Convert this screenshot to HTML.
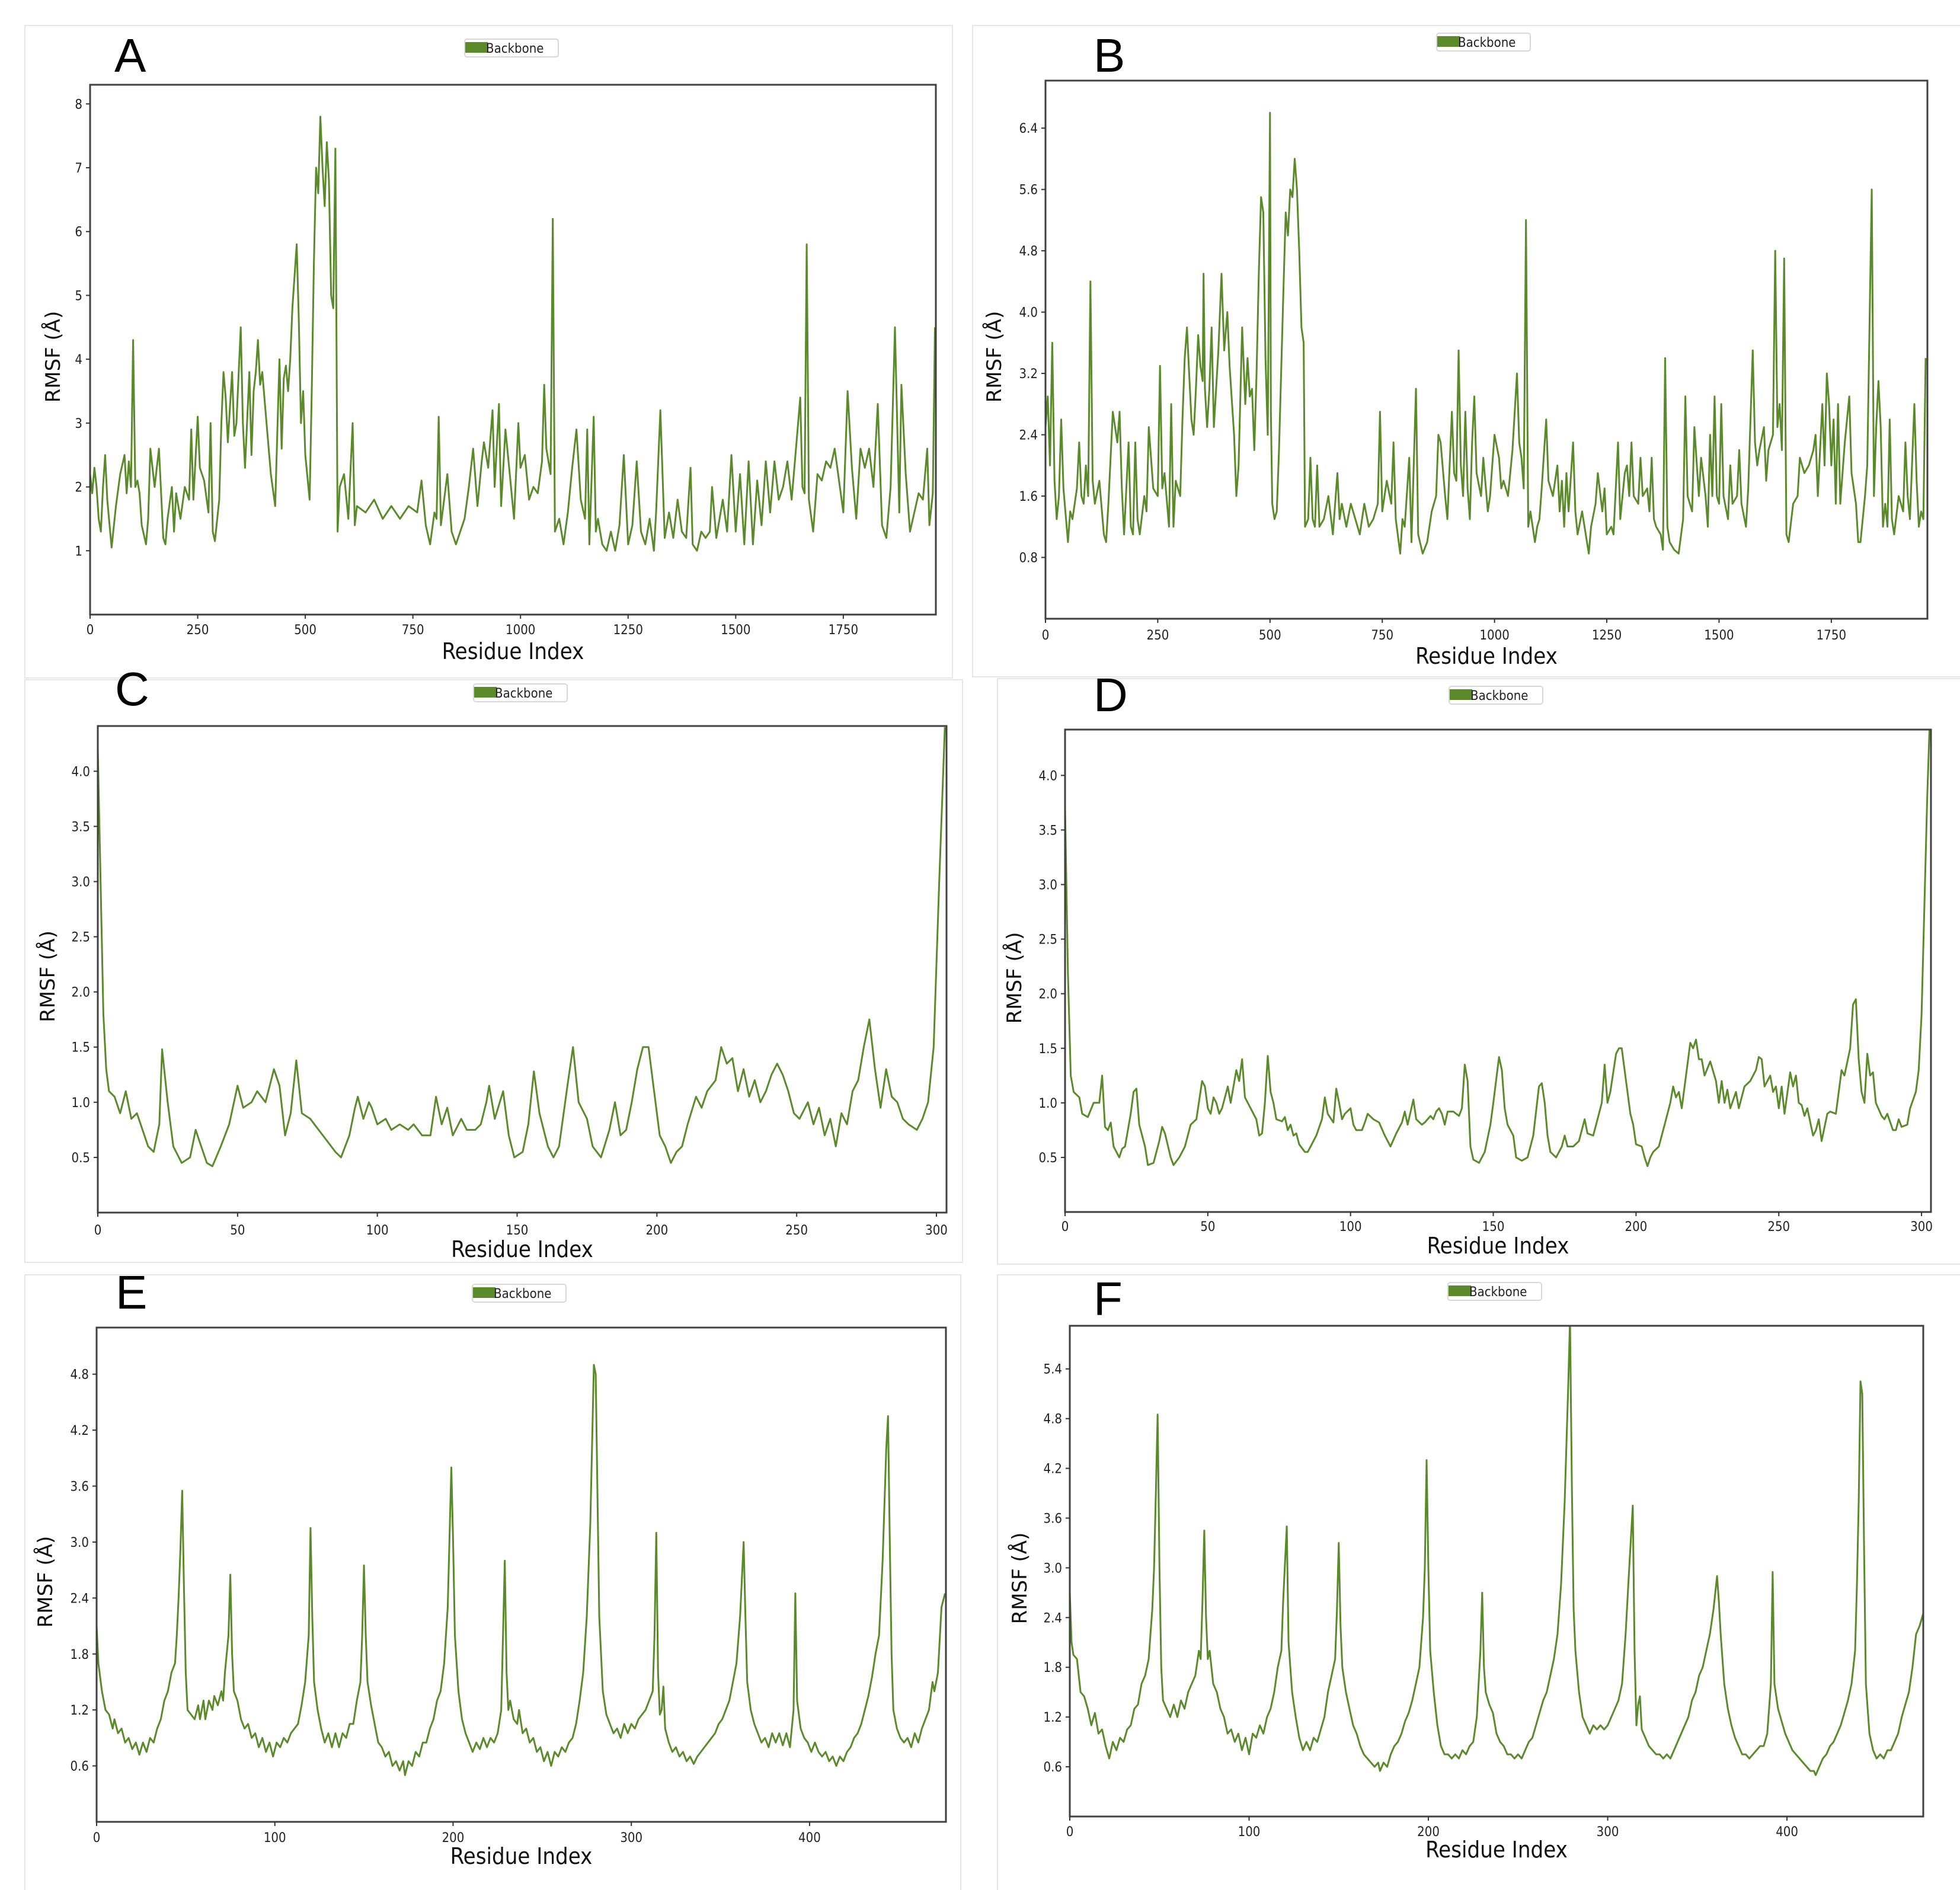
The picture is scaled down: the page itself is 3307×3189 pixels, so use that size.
<!DOCTYPE html>
<html><head><meta charset="utf-8"><style>
html,body{margin:0;padding:0;background:#fff;}
svg{display:block;}
</style></head><body>
<svg id="fig" xmlns="http://www.w3.org/2000/svg" width="3307" height="3189" viewBox="0 0 3307 3189">
<rect x="0" y="0" width="3307" height="3189" fill="#fff"/>
<g fill="none" stroke="#e6e6e6" stroke-width="2">
<rect x="42" y="43" width="1565" height="1101"/>
<rect x="1641" y="43" width="1680" height="1099"/>
<rect x="42" y="1147" width="1582" height="983"/>
<rect x="1683" y="1145" width="1640" height="988"/>
<rect x="42" y="2151" width="1579" height="1060"/>
<rect x="1683" y="2151" width="1640" height="1060"/>
</g>
</svg>
<script>
// ---- data (residue index, RMSF) ----
const xA=[0,5,10,15,20,25,30,35,40,50,60,70,80,85,90,95,100,105,110,115,120,130,135,140,150,160,170,175,180,190,195,200,210,220,230,235,240,250,255,265,275,280,285,290,300,305,310,315,320,330,335,340,350,355,360,370,375,380,385,390,395,400,410,420,430,440,445,450,455,460,465,470,480,485,490,495,500,510,515,520,525,530,535,540,545,550,555,560,565,570,575,580,590,600,610,615,620,640,660,680,700,720,740,760,770,780,790,800,805,810,815,830,840,850,860,870,880,890,900,910,915,925,935,940,950,955,965,975,985,995,1000,1010,1020,1030,1040,1050,1055,1060,1070,1075,1080,1090,1100,1110,1120,1130,1140,1150,1155,1160,1170,1175,1180,1190,1200,1210,1220,1230,1240,1250,1260,1270,1280,1290,1300,1310,1315,1325,1335,1345,1355,1365,1375,1385,1395,1400,1410,1420,1430,1440,1445,1455,1470,1480,1490,1500,1510,1520,1530,1540,1550,1560,1570,1580,1590,1600,1610,1620,1630,1640,1650,1655,1660,1665,1670,1680,1690,1700,1710,1720,1730,1740,1750,1760,1770,1780,1790,1800,1810,1820,1830,1840,1850,1860,1870,1880,1885,1895,1905,1915,1925,1935,1945,1950,1958,1963];
const yA=[2.2,1.9,2.3,2.0,1.5,1.3,2.0,2.5,1.8,1.05,1.7,2.2,2.5,1.9,2.4,2.0,4.3,2.0,2.1,1.9,1.4,1.1,1.5,2.6,2.0,2.6,1.2,1.1,1.5,2.0,1.3,1.9,1.5,2.0,1.8,2.9,1.8,3.1,2.3,2.1,1.6,3.0,1.3,1.15,1.8,3.0,3.8,3.4,2.7,3.8,2.8,3.0,4.5,3.0,2.3,3.8,2.5,3.5,3.8,4.3,3.6,3.8,3.0,2.2,1.7,4.0,2.6,3.7,3.9,3.5,4.0,4.8,5.8,4.6,3.0,3.5,2.5,1.8,3.5,5.5,7.0,6.6,7.8,7.0,6.4,7.4,6.8,5.0,4.8,7.3,1.3,2.0,2.2,1.5,3.0,1.4,1.7,1.6,1.8,1.5,1.7,1.5,1.7,1.6,2.1,1.4,1.1,1.6,1.5,3.1,1.4,2.2,1.3,1.1,1.3,1.5,2.0,2.6,1.7,2.4,2.7,2.3,3.2,2.0,3.3,1.7,2.9,2.2,1.5,3.0,2.3,2.5,1.8,2.0,1.9,2.4,3.6,2.6,2.2,6.2,1.3,1.5,1.1,1.6,2.3,2.9,1.8,1.5,2.9,1.1,3.1,1.3,1.5,1.1,1.0,1.3,1.0,1.4,2.5,1.1,1.4,2.4,1.3,1.1,1.5,1.0,1.6,3.2,1.2,1.6,1.2,1.8,1.3,1.2,2.3,1.1,1.0,1.3,1.2,1.3,2.0,1.2,1.8,1.3,2.5,1.3,2.2,1.1,2.4,1.1,2.1,1.4,2.4,1.6,2.4,1.8,2.0,2.4,1.8,2.6,3.4,2.0,1.9,5.8,1.8,1.3,2.2,2.1,2.4,2.3,2.6,2.1,1.6,3.5,2.3,1.5,2.6,2.3,2.6,2.0,3.3,1.4,1.2,2.0,4.5,1.6,3.6,2.2,1.3,1.6,1.9,1.8,2.6,1.4,1.9,4.5];

const xB=[0,5,10,15,20,25,30,35,40,50,55,60,70,75,80,85,90,95,100,105,110,120,130,135,140,150,160,165,170,175,185,190,195,200,205,210,220,225,230,240,250,255,260,265,275,280,285,290,300,305,310,315,320,325,330,335,340,345,350,352,355,360,365,370,375,385,392,398,405,410,420,425,430,438,445,450,455,460,465,470,475,480,485,490,495,500,502,505,510,515,520,530,535,540,545,550,555,560,565,570,575,578,585,590,595,600,605,610,620,630,640,650,655,660,670,680,690,700,710,720,730,740,745,750,760,770,775,780,790,795,800,810,815,825,830,840,850,860,870,875,880,890,895,905,910,915,920,925,930,935,940,945,950,955,960,970,975,985,990,995,1000,1010,1015,1020,1030,1040,1050,1055,1060,1065,1070,1075,1080,1090,1095,1100,1105,1115,1120,1130,1140,1145,1150,1155,1160,1165,1175,1180,1185,1195,1210,1215,1225,1230,1240,1245,1250,1260,1265,1275,1280,1290,1295,1300,1305,1310,1320,1325,1330,1340,1345,1350,1355,1360,1370,1375,1380,1385,1390,1400,1410,1420,1425,1430,1440,1445,1455,1460,1470,1475,1480,1485,1490,1495,1500,1505,1510,1520,1525,1530,1540,1545,1550,1560,1565,1575,1580,1585,1590,1600,1605,1610,1620,1625,1630,1635,1640,1645,1650,1655,1665,1675,1680,1690,1700,1710,1715,1720,1730,1735,1740,1745,1750,1755,1760,1765,1770,1780,1790,1795,1805,1810,1815,1825,1830,1840,1845,1850,1855,1860,1865,1870,1875,1880,1885,1890,1900,1910,1915,1920,1925,1935,1940,1945,1950,1955,1960];
const yB=[2.5,2.9,2.0,3.6,1.8,1.3,1.6,2.6,1.7,1.0,1.4,1.3,1.7,2.3,1.6,1.5,2.0,1.6,4.4,1.8,1.5,1.8,1.1,1.0,1.5,2.7,2.3,2.7,1.7,1.1,2.3,1.2,1.1,2.3,1.3,1.1,1.6,1.4,2.5,1.7,1.6,3.3,1.7,1.9,1.2,2.8,1.2,1.8,1.6,2.6,3.4,3.8,3.2,2.6,2.4,3.0,3.7,3.3,3.1,4.5,3.0,2.5,3.0,3.8,2.5,3.5,4.5,3.5,4.0,3.3,2.4,1.6,2.0,3.8,2.8,3.4,2.9,3.0,2.2,3.2,4.5,5.5,5.3,3.4,2.4,6.6,2.7,1.5,1.3,1.4,2.2,4.3,5.3,5.0,5.6,5.5,6.0,5.6,4.8,3.8,3.6,1.2,1.3,2.1,1.3,1.2,2.0,1.2,1.3,1.6,1.1,1.9,1.3,1.5,1.2,1.5,1.3,1.1,1.5,1.2,1.3,1.5,2.7,1.4,1.8,1.5,2.3,1.3,0.85,1.3,1.2,2.1,1.0,3.0,1.1,0.85,1.0,1.4,1.6,2.4,2.3,1.6,1.3,2.7,1.9,1.8,3.5,2.0,1.6,2.7,1.7,1.3,2.3,2.9,1.9,1.6,2.1,1.4,1.6,2.0,2.4,2.1,1.7,1.8,1.6,2.2,3.2,2.3,2.1,1.7,5.2,1.2,1.4,1.0,1.2,1.3,1.7,2.6,1.8,1.6,2.0,1.4,1.8,1.2,1.9,1.4,2.3,1.4,1.1,1.4,0.85,1.2,1.5,1.9,1.4,1.7,1.1,1.2,1.1,2.3,1.3,1.9,2.0,1.6,2.3,1.6,1.5,2.1,1.6,1.7,1.4,2.1,1.3,1.2,1.1,0.9,3.4,1.2,1.0,0.9,0.85,1.3,2.9,1.6,1.4,2.5,1.6,2.1,1.6,1.2,2.4,1.6,2.9,1.6,1.5,2.8,1.6,1.3,2.0,1.5,1.6,2.2,1.5,1.2,1.7,3.5,2.3,2.0,2.2,2.5,1.8,2.2,2.4,4.8,2.5,2.8,2.2,4.7,1.1,1.0,1.5,1.6,2.1,1.9,2.0,2.2,2.4,1.6,2.8,2.0,3.2,2.8,2.0,2.6,1.5,2.8,1.5,2.3,2.9,1.9,1.5,1.0,1.0,1.6,2.0,5.6,1.6,2.5,3.1,2.5,1.2,1.5,1.2,2.6,1.3,1.1,1.6,1.4,2.3,1.6,1.3,2.8,1.8,1.2,1.4,1.3,3.4];

const xC=[0,1,2,3,4,6,8,10,12,14,16,18,20,22,23,25,27,30,33,35,37,39,41,44,47,50,52,55,57,60,63,65,67,69,71,73,76,79,82,85,87,90,92,93,95,97,98,100,103,105,108,111,113,116,119,121,123,125,127,130,132,135,137,139,140,142,145,147,149,152,154,156,158,161,163,165,168,170,172,175,177,180,183,185,187,189,191,193,195,197,199,201,203,205,207,209,211,214,216,218,221,223,225,227,229,231,233,235,237,239,241,243,245,247,249,251,254,256,258,260,262,264,266,268,270,272,274,276,278,280,282,284,286,288,290,293,295,297,299,301,303];
const yC=[4.2,3.0,1.8,1.3,1.1,1.05,0.9,1.1,0.85,0.9,0.75,0.6,0.55,0.8,1.48,1.0,0.6,0.45,0.5,0.75,0.6,0.45,0.42,0.6,0.8,1.15,0.95,1.0,1.1,1.0,1.3,1.15,0.7,0.9,1.38,0.9,0.85,0.75,0.65,0.55,0.5,0.7,0.95,1.05,0.85,1.0,0.95,0.8,0.85,0.75,0.8,0.75,0.8,0.7,0.7,1.05,0.8,0.95,0.7,0.85,0.75,0.75,0.8,1.0,1.15,0.85,1.1,0.7,0.5,0.55,0.8,1.28,0.9,0.6,0.5,0.6,1.15,1.5,1.0,0.85,0.6,0.5,0.75,1.0,0.7,0.75,1.0,1.3,1.5,1.5,1.1,0.7,0.6,0.45,0.55,0.6,0.8,1.05,0.95,1.1,1.2,1.5,1.35,1.4,1.1,1.3,1.05,1.2,1.0,1.1,1.25,1.35,1.25,1.1,0.9,0.85,1.0,0.8,0.95,0.7,0.85,0.6,0.9,0.8,1.1,1.2,1.5,1.75,1.3,0.95,1.3,1.05,1.0,0.85,0.8,0.75,0.85,1.0,1.5,3.0,4.4];

const xD=[0,1,2,3,5,6,8,10,12,13,14,15,16,17,19,20,21,23,24,25,26,28,29,31,33,34,35,37,38,40,42,44,46,48,49,50,51,52,53,54,55,57,58,60,61,62,63,65,67,68,69,70,71,72,73,74,76,77,78,79,80,81,82,84,85,86,88,90,91,92,94,95,96,97,98,100,101,102,104,105,106,108,110,112,114,116,118,119,120,122,123,125,126,128,129,130,131,132,133,134,136,138,139,140,141,142,143,145,147,149,150,152,153,154,155,157,158,160,162,164,166,167,168,169,170,172,174,175,176,178,180,182,183,185,186,188,189,190,191,193,194,195,196,198,199,200,202,203,204,205,206,208,210,212,213,214,215,216,218,219,220,221,222,223,224,226,228,229,230,231,232,233,235,236,238,240,242,243,244,245,246,247,248,249,250,251,252,254,255,256,257,258,259,260,262,263,264,265,267,268,270,272,273,275,276,277,278,279,280,281,282,283,284,286,287,288,290,291,292,293,295,296,298,299,300,301,302,303];
const yD=[3.7,2.2,1.25,1.1,1.05,0.9,0.87,1.0,1.0,1.25,0.78,0.75,0.82,0.6,0.5,0.58,0.6,0.9,1.1,1.13,0.8,0.6,0.43,0.45,0.65,0.78,0.72,0.5,0.43,0.5,0.6,0.8,0.85,1.2,1.15,0.95,0.9,1.05,1.0,0.9,0.95,1.15,1.0,1.3,1.2,1.4,1.05,0.95,0.85,0.7,0.72,1.0,1.43,1.1,1.0,0.85,0.83,0.87,0.75,0.8,0.7,0.72,0.62,0.55,0.55,0.6,0.7,0.85,1.05,0.9,0.82,1.13,1.0,0.85,0.9,0.95,0.8,0.75,0.75,0.82,0.9,0.85,0.82,0.7,0.6,0.72,0.82,0.92,0.8,1.03,0.85,0.8,0.82,0.88,0.85,0.92,0.95,0.9,0.8,0.92,0.92,0.88,0.95,1.35,1.2,0.6,0.48,0.45,0.55,0.8,1.0,1.42,1.3,0.95,0.8,0.7,0.5,0.47,0.5,0.7,1.15,1.18,1.0,0.7,0.55,0.5,0.6,0.7,0.6,0.6,0.65,0.85,0.72,0.7,0.8,1.0,1.35,1.0,1.1,1.45,1.5,1.5,1.3,0.9,0.8,0.62,0.6,0.5,0.42,0.5,0.55,0.6,0.8,1.0,1.15,1.05,1.1,0.95,1.35,1.55,1.5,1.58,1.4,1.4,1.25,1.38,1.2,1.0,1.2,1.0,1.12,0.95,1.1,0.95,1.15,1.2,1.3,1.42,1.4,1.15,1.2,1.25,1.1,1.15,0.95,1.15,0.9,1.28,1.15,1.25,1.0,0.98,0.88,0.95,0.7,0.75,0.85,0.65,0.9,0.92,0.9,1.3,1.25,1.5,1.9,1.95,1.4,1.1,1.0,1.45,1.25,1.28,1.0,0.88,0.85,0.9,0.75,0.75,0.85,0.78,0.8,0.95,1.1,1.3,1.8,2.8,3.8,4.6];

const xE=[0,1,3,5,7,9,10,12,14,16,18,20,22,24,26,28,30,32,34,36,38,40,42,44,45,46,47,48,49,50,51,53,55,57,58,60,61,63,65,66,68,70,71,72,74,75,76,77,79,81,83,85,87,89,91,93,95,97,99,101,103,105,107,109,111,113,115,117,119,120,121,122,124,126,128,130,132,134,136,138,140,142,144,146,148,149,150,151,152,154,156,158,160,162,164,166,168,170,172,173,175,177,179,181,183,185,187,189,191,193,195,197,199,200,201,203,205,207,209,211,213,215,217,219,221,223,225,227,229,230,231,232,234,236,237,239,241,243,245,247,249,251,253,255,257,259,261,263,265,267,269,271,273,275,277,279,280,281,282,284,286,288,290,292,294,296,298,300,302,304,306,308,310,312,313,314,315,316,317,318,319,321,323,325,327,329,331,333,335,337,339,341,343,345,347,349,351,353,355,357,359,361,363,364,365,367,369,371,373,375,377,379,381,383,385,387,389,391,392,393,395,397,399,401,403,405,407,409,411,413,415,417,419,421,423,425,427,429,431,433,435,437,439,441,443,444,445,446,447,449,451,453,455,457,459,461,463,465,467,469,470,472,474,476];
const yE=[2.1,1.7,1.4,1.2,1.15,1.0,1.1,0.95,1.0,0.85,0.9,0.78,0.85,0.72,0.85,0.75,0.9,0.85,1.0,1.1,1.3,1.4,1.6,1.7,2.0,2.4,2.9,3.55,2.5,1.6,1.2,1.15,1.1,1.25,1.1,1.3,1.1,1.3,1.2,1.35,1.25,1.4,1.3,1.6,2.0,2.65,1.8,1.4,1.3,1.1,1.0,1.05,0.9,0.95,0.8,0.9,0.75,0.85,0.7,0.85,0.8,0.9,0.85,0.95,1.0,1.05,1.25,1.5,2.0,3.15,2.2,1.5,1.2,1.0,0.85,0.95,0.8,0.95,0.8,0.95,0.9,1.05,1.05,1.3,1.5,2.0,2.75,2.0,1.5,1.25,1.05,0.85,0.8,0.7,0.75,0.6,0.65,0.55,0.65,0.5,0.65,0.6,0.75,0.7,0.85,0.85,1.0,1.1,1.3,1.4,1.7,2.3,3.8,3.0,2.0,1.4,1.1,0.95,0.85,0.75,0.85,0.78,0.9,0.8,0.9,0.85,0.95,1.2,2.8,1.6,1.2,1.3,1.1,1.05,1.2,0.95,1.0,0.85,0.9,0.75,0.8,0.65,0.75,0.6,0.75,0.7,0.8,0.75,0.85,0.9,1.05,1.3,1.6,2.2,3.2,4.9,4.8,3.5,2.2,1.4,1.15,1.05,0.95,1.0,0.9,1.05,0.95,1.05,1.0,1.1,1.15,1.2,1.3,1.4,2.0,3.1,1.6,1.15,1.2,1.45,1.0,0.85,0.75,0.8,0.7,0.75,0.65,0.7,0.62,0.7,0.75,0.8,0.85,0.9,0.95,1.05,1.1,1.2,1.3,1.5,1.7,2.2,3.0,2.2,1.5,1.2,1.05,0.95,0.85,0.9,0.8,0.95,0.85,0.95,0.82,0.95,0.8,1.2,2.45,1.3,1.0,0.9,0.85,0.75,0.85,0.75,0.7,0.75,0.65,0.7,0.6,0.7,0.65,0.75,0.8,0.9,0.95,1.05,1.2,1.35,1.55,1.8,2.0,2.8,4.0,4.35,3.0,1.8,1.2,1.0,0.9,0.85,0.9,0.8,0.95,0.85,1.0,1.1,1.2,1.5,1.4,1.6,2.3,2.45];

const xF=[
0,1,2,4,6,8,10,12,14,16,
18,20,22,24,26,28,30,32,34,36,
38,40,42,44,45,46,47,48,49,50,
51,52,54,56,58,60,62,64,66,68,
70,72,73,74,75,76,77,78,80,82,
84,86,88,90,92,94,96,98,100,102,
104,106,108,110,112,114,116,118,119,121,
122,124,126,128,130,132,134,136,138,140,
142,144,146,148,149,150,151,152,154,156,
158,160,162,164,166,168,170,172,173,175,
177,179,181,183,185,187,189,191,193,195,
197,198,199,200,201,203,205,207,209,211,
213,215,217,219,221,223,225,227,229,230,
231,232,234,236,238,240,242,244,246,248,
250,252,254,256,258,260,262,264,266,268,
270,272,274,276,278,279,280,281,282,284,
286,288,290,292,294,296,298,300,302,304,
306,308,310,312,314,315,316,317,318,319,
321,323,325,327,329,331,333,335,337,339,
341,343,345,347,349,351,353,355,357,359,
361,362,363,365,367,369,371,373,375,377,
379,381,383,385,387,389,391,392,393,395,
397,399,401,403,405,407,409,411,413,415,
416,418,420,422,424,426,428,430,432,434,
436,438,439,440,441,442,443,444,446,448,
450,452,454,456,458,460,462,464,466,468,
470,472,474,476];
const yF=[
2.7,2.1,1.95,1.9,1.5,1.45,1.3,1.1,1.25,1.0,
1.05,0.85,0.7,0.9,0.8,0.95,0.9,1.05,1.1,1.3,
1.35,1.6,1.7,1.9,2.2,2.5,3.0,3.9,4.85,3.0,
1.8,1.4,1.3,1.2,1.35,1.2,1.4,1.3,1.5,1.6,
1.7,2.0,1.9,2.6,3.45,2.4,1.9,2.0,1.6,1.5,
1.3,1.2,1.0,1.05,0.9,1.0,0.8,0.95,0.75,1.0,
0.95,1.1,1.0,1.2,1.3,1.5,1.8,2.0,2.6,3.5,
2.1,1.5,1.2,0.95,0.8,0.9,0.8,0.95,0.9,1.05,
1.2,1.5,1.7,1.9,2.5,3.3,2.3,1.8,1.5,1.3,
1.1,1.0,0.85,0.75,0.7,0.65,0.6,0.65,0.55,0.65,
0.6,0.75,0.85,0.9,1.0,1.15,1.25,1.4,1.6,1.8,
2.4,3.0,4.3,3.0,2.0,1.5,1.1,0.85,0.75,0.75,
0.7,0.75,0.7,0.8,0.75,0.85,0.9,1.2,2.0,2.7,
1.8,1.5,1.35,1.25,1.0,0.9,0.85,0.75,0.75,0.7,
0.75,0.7,0.8,0.9,0.95,1.1,1.25,1.4,1.5,1.7,
1.9,2.2,2.8,3.8,5.2,6.0,4.0,2.5,2.0,1.5,
1.2,1.1,1.0,1.1,1.05,1.1,1.05,1.1,1.2,1.3,
1.4,1.6,2.2,3.0,3.75,2.0,1.1,1.35,1.45,1.05,
0.95,0.85,0.8,0.75,0.75,0.7,0.75,0.7,0.8,0.9,
1.0,1.1,1.2,1.4,1.5,1.7,1.8,2.0,2.2,2.5,
2.9,2.6,2.2,1.6,1.3,1.1,0.95,0.85,0.75,0.75,
0.7,0.75,0.8,0.85,0.85,1.0,1.6,2.95,1.6,1.3,
1.15,1.0,0.9,0.8,0.75,0.7,0.65,0.6,0.55,0.55,
0.5,0.6,0.7,0.75,0.85,0.9,1.0,1.1,1.25,1.4,
1.6,2.0,2.8,3.8,5.25,5.1,3.2,1.6,1.0,0.8,
0.7,0.75,0.7,0.8,0.8,0.9,1.0,1.2,1.35,1.5,
1.8,2.2,2.3,2.45];

const ticksAB=[0,250,500,750,1000,1250,1500,1750];
const ticksCD=[0,50,100,150,200,250,300];
const ticksEF=[0,100,200,300,400];
const yTicksA=[1,2,3,4,5,6,7,8];
const yTicksB=[0.8,1.6,2.4,3.2,4.0,4.8,5.6,6.4];
const yTicksCD=[0.5,1.0,1.5,2.0,2.5,3.0,3.5,4.0];
const yTicksE=[0.6,1.2,1.8,2.4,3.0,3.6,4.2,4.8];
const yTicksF=[0.6,1.2,1.8,2.4,3.0,3.6,4.2,4.8,5.4];

const NS='http://www.w3.org/2000/svg';
const svg=document.getElementById('fig');
function mk(tag,attrs,parent){const e=document.createElementNS(NS,tag);for(const k in attrs)e.setAttribute(k,attrs[k]);(parent||svg).appendChild(e);return e;}

const panels=[
 {id:'a',L:'A',f:[152,143,1579,1037],xd:[0,1965],yd:[0,8.3],xs:xA,ys:yA,xt:ticksAB,yt:yTicksA,dec:0,letter:[193,121],leg:[784,66],xlabY:1062,xtitY:1112,ytitX:89},
 {id:'b',L:'B',f:[1764,136,3252,1044],xd:[0,1964],yd:[0,7.02],xs:xB,ys:yB,xt:ticksAB,yt:yTicksB,dec:1,letter:[1845,121],leg:[2424,56],xlabY:1071,xtitY:1120,ytitX:1677},
 {id:'c',L:'C',f:[165,1225,1597,2046],xd:[0,303.6],yd:[0,4.41],xs:xC,ys:yC,xt:ticksCD,yt:yTicksCD,dec:1,letter:[194,1190],leg:[799,1154],xlabY:2075,xtitY:2121,ytitX:80},
 {id:'d',L:'D',f:[1797,1231,3258,2045],xd:[0,303.3],yd:[0,4.42],xs:xD,ys:yD,xt:ticksCD,yt:yTicksCD,dec:1,letter:[1845,1200],leg:[2445,1158],xlabY:2069,xtitY:2115,ytitX:1711},
 {id:'e',L:'E',f:[163,2240,1596,3074],xd:[0,476.5],yd:[0,5.3],xs:xE,ys:yE,xt:ticksEF,yt:yTicksE,dec:1,letter:[195,2208],leg:[797,2167],xlabY:3100,xtitY:3145,ytitX:76},
 {id:'f',L:'F',f:[1805,2237,3245,3065],xd:[0,476],yd:[0,5.92],xs:xF,ys:yF,xt:ticksEF,yt:yTicksF,dec:1,letter:[1845,2219],leg:[2443,2164],xlabY:3090,xtitY:3134,ytitX:1720}
];

const TICKFONT='"DejaVu Sans Condensed","DejaVu Sans","Liberation Sans",sans-serif';
panels.forEach(p=>{
 const [x0,y0,x1,y1]=p.f;
 const sx=v=>x0+(v-p.xd[0])/(p.xd[1]-p.xd[0])*(x1-x0);
 const sy=v=>y1-(v-p.yd[0])/(p.yd[1]-p.yd[0])*(y1-y0);
 const g=mk('g',{});
 
 
 const lt=mk('text',{x:p.letter[0],y:p.letter[1],'font-family':'"Liberation Sans Narrow","Liberation Sans",sans-serif','font-size':80,fill:'#000'},g);
 lt.textContent=p.L;
 
 
 const cp=mk('clipPath',{id:'clip'+p.id},g);
 mk('rect',{x:x0,y:y0,width:x1-x0,height:y1-y0},cp);
 const n=Math.min(p.xs.length,p.ys.length);
 let d='';
 for(let i=0;i<n;i++){d+=(i?'L':'M')+sx(p.xs[i]).toFixed(1)+' '+sy(p.ys[i]).toFixed(1);}
 const ln=mk('path',{d:d,fill:'none',stroke:'#5b8a2b','stroke-width':3,'stroke-linejoin':'round','clip-path':'url(#clip'+p.id+')'},g);
 
 
 const fr=mk('rect',{x:x0,y:y0,width:x1-x0,height:y1-y0,fill:'none',stroke:'#404040','stroke-width':3},g);
 
 
 p.xt.forEach(t=>{
  const X=sx(t);
  mk('line',{x1:X,y1:y1,x2:X,y2:y1+7,stroke:'#333','stroke-width':2},g);
  const tx=mk('text',{x:X,y:p.xlabY+8,'text-anchor':'middle','font-family':TICKFONT,'font-size':22,fill:'#222'},g);
  tx.textContent=String(t);
  
  
 });
 p.yt.forEach(t=>{
  const Y=sy(t);
  mk('line',{x1:x0-7,y1:Y,x2:x0,y2:Y,stroke:'#333','stroke-width':2},g);
  const ty=mk('text',{x:x0-13,y:Y+8,'text-anchor':'end','font-family':TICKFONT,'font-size':22,fill:'#222'},g);
  ty.textContent=t.toFixed(p.dec);
  
  
 });
 const xt=mk('text',{x:(x0+x1)/2,y:p.xtitY,'text-anchor':'middle','font-family':TICKFONT,'font-size':38,fill:'#111'},g);
 xt.textContent='Residue Index';
 
 
 const cy=(y0+y1)/2;
 const yt=mk('text',{x:p.ytitX,y:cy,'text-anchor':'middle','font-family':'"DejaVu Sans","Liberation Sans",sans-serif','font-size':34,fill:'#111',transform:'rotate(-90 '+(p.ytitX+12)+' '+cy+')'},g);
 yt.textContent='RMSF (Å)';
 
 
 const lg=mk('g',{},g);
 
 
 mk('rect',{x:p.leg[0],y:p.leg[1],width:158,height:30,rx:4,fill:'#fff',stroke:'#d8d8d8','stroke-width':2},lg);
 mk('rect',{x:p.leg[0]+1,y:p.leg[1]+5,width:38,height:18,fill:'#5b8a2b'},lg);
 const lt2=mk('text',{x:p.leg[0]+36,y:p.leg[1]+23,'font-family':TICKFONT,'font-size':22,fill:'#222'},lg);
 lt2.textContent='Backbone';
 
 
});
</script>
</body></html>
